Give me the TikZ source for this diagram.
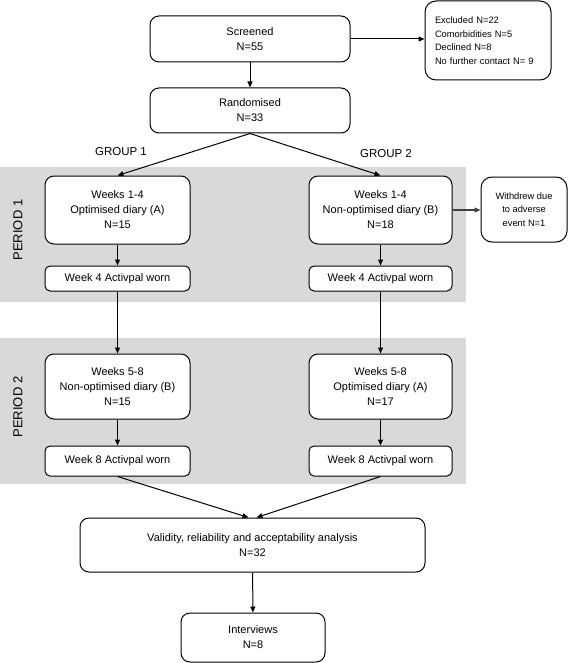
\documentclass[tikz,border=0pt]{standalone}
\usepackage{fontspec}
\setmainfont{Liberation Sans}
\usetikzlibrary{arrows.meta}
\definecolor{fondo}{HTML}{D9D9D9}
\begin{document}
\begin{tikzpicture}[x=1pt, y=-1pt,
		caja/.style={draw, line width=1pt, rounded corners=9pt, fill=white, align=center, inner sep=0pt, font=\fontsize{11}{15}\selectfont},
		cajita/.style={caja, rounded corners=5pt},
		nota/.style={caja, rounded corners=11pt, font=\fontsize{9.3}{13.6}\selectfont},
		flecha/.style={-{Triangle[length=6pt,width=5pt]}, line width=1pt}]
		\useasboundingbox (0,0) rectangle (568,663);
	
		% Fondos de los periodos
			\fill[fondo] (0,167) rectangle (466,302);
			\fill[fondo] (0,338) rectangle (466,484);
			\node[rotate=90, font=\fontsize{13}{15}\selectfont] (p1) at (18,230) {PERIOD 1};
			\node[rotate=90, font=\fontsize{13}{15}\selectfont] (p2) at (18,407) {PERIOD 2};
	
		% Cajas superiores
			\node[caja, minimum width=200, minimum height=46] (scr) at (250,39) {Screened\\N=55};
			\node[nota, minimum width=126, minimum height=79, text width=106, align=left] (excl) at (488,40.5) {Excluded N=22\\Comorbidities N=5\\Declined N=8\\No further contact N=~9};
			\node[caja, minimum width=200, minimum height=45] (rand) at (250,110.5) {Randomised\\N=33};
			\node[font=\fontsize{11.5}{14}\selectfont] (gr1) at (121,152) {GROUP 1};
			\node[font=\fontsize{11.5}{14}\selectfont] (gr2) at (386,154) {GROUP 2};
	
		% Periodo 1
			\node[caja, minimum width=145, minimum height=68] (g1a) at (117.5,210) {Weeks 1-4\\Optimised diary (A)\\N=15};
			\node[caja, minimum width=143, minimum height=68] (g2a) at (380.5,210) {Weeks 1-4\\Non-optimised diary (B)\\N=18};
			\node[nota, minimum width=86, minimum height=65] (wd) at (524,209.5) {Withdrew due\\to adverse\\event N=1};
			\node[cajita, minimum width=145, minimum height=25] (g1b) at (117.5,278.5) {Week 4 Activpal worn};
			\node[cajita, minimum width=143, minimum height=25] (g2b) at (380.5,278.5) {Week 4 Activpal worn};
	
		% Periodo 2
			\node[caja, minimum width=145, minimum height=65] (g1c) at (117.5,386.5) {Weeks 5-8\\Non-optimised diary (B)\\N=15};
			\node[caja, minimum width=143, minimum height=65] (g2c) at (380.5,386.5) {Weeks 5-8\\Optimised diary (A)\\N=17};
			\node[cajita, minimum width=145, minimum height=30] (g1d) at (117.5,461) {Week 8 Activpal worn};
			\node[cajita, minimum width=143, minimum height=30] (g2d) at (380.5,461) {Week 8 Activpal worn};
	
		% Cajas finales
			\node[caja, minimum width=345, minimum height=54] (val) at (252.5,545) {Validity, reliability and acceptability analysis\\N=32};
			\node[caja, minimum width=144, minimum height=49] (intv) at (253,637.5) {Interviews\\N=8};
	
		% Flechas
			\draw[flecha] (scr.east) -- (excl.west |- scr.east);
			\draw[flecha] (scr) -- (rand);
			\draw[flecha] (rand.south) -- (g1a.north);
			\draw[flecha] (rand.south) -- (g2a.north);
			\draw[flecha, black!75, line width=1.2pt] (g2a.east) -- (wd.west |- g2a.east);
			\draw[flecha] (g1a) -- (g1b);
			\draw[flecha] (g2a) -- (g2b);
			\draw[flecha] (g1b) -- (g1c);
			\draw[flecha] (g2b) -- (g2c);
			\draw[flecha] (g1c) -- (g1d);
			\draw[flecha] (g2c) -- (g2d);
			\draw[flecha] (g1d.south) -- ([xshift=-4pt]val.north);
			\draw[flecha] (g2d.south) -- ([xshift=4pt]val.north);
			\draw[flecha] (val) -- (intv);
	\end{tikzpicture}
\end{document}
